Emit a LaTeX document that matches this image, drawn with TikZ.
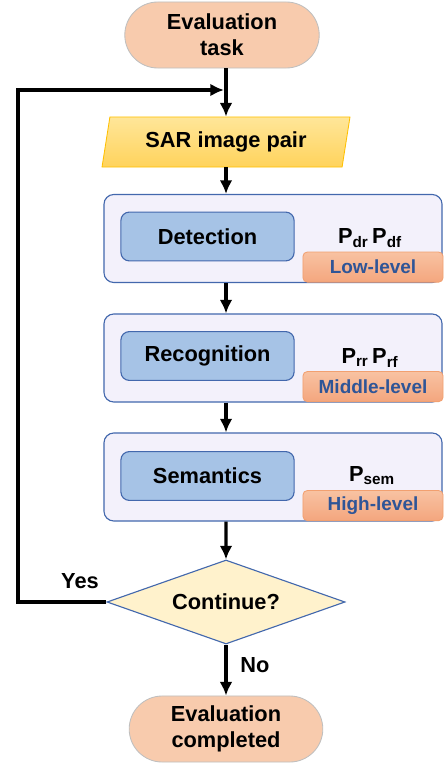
\documentclass[tikz,border=0pt]{standalone}
\usepackage{fontspec}
\setmainfont{Liberation Sans}
\usepackage{tikz}
\usetikzlibrary{positioning,calc,shapes.geometric,shapes.misc,arrows.meta}

\definecolor{termfill}{HTML}{F8CBAD}
\definecolor{termline}{HTML}{BFBFBF}
\definecolor{sartop}{HTML}{FFE699}
\definecolor{sarbot}{HTML}{FFD35C}
\definecolor{sarline}{HTML}{FFC000}
\definecolor{stagefill}{HTML}{F3F1FB}
\definecolor{stageline}{HTML}{4368AD}
\definecolor{taskfill}{HTML}{A6C3E6}
\definecolor{tagtop}{HTML}{F8C2A2}
\definecolor{tagbot}{HTML}{F4A67E}
\definecolor{tagline}{HTML}{F2A070}
\definecolor{tagtext}{HTML}{2F5597}
\definecolor{decfill}{HTML}{FFF2CC}

\begin{document}
\begin{tikzpicture}[x=0.025cm, y=-0.025cm, >={Latex[length=3.4mm,width=3.2mm]}, line width=2.2pt,
    every node/.style={font=\fontsize{15.5}{18.5}\selectfont\bfseries, align=center},
    term/.style={rounded rectangle, draw=termline, line width=0.6pt, fill=termfill,
      minimum width=5cm, minimum height=1.65cm, inner sep=2pt},
    sarbox/.style={trapezium, trapezium left angle=79, trapezium right angle=101,
      trapezium stretches=true, draw=sarline, line width=0.6pt, top color=sartop,
      bottom color=sarbot, minimum width=6.2cm, minimum height=1.25cm},
    stage/.style={draw=stageline, line width=0.8pt, fill=stagefill, rounded corners=7pt,
      minimum width=8.45cm, minimum height=2.2cm},
    task/.style={draw=stageline, line width=0.8pt, fill=taskfill, rounded corners=6pt,
      minimum width=4.33cm, minimum height=1.22cm},
    level/.style={draw=tagline, line width=0.6pt, top color=tagtop, bottom color=tagbot,
      rounded corners=3pt, minimum width=3.5cm, minimum height=0.75cm, text=tagtext,
      font=\fontsize{13.5}{15}\selectfont\bfseries},
    decide/.style={diamond, draw=stageline, line width=0.8pt, fill=decfill, inner sep=0pt,
      shape aspect=2.8, minimum width=5.95cm, minimum height=2.1cm}]

  \useasboundingbox (0,0) rectangle (444,763);

  \node[term] (start) at (222,35) {Evaluation\\task};
  \node[sarbox] (sar) at (226,142) {SAR image pair};

  \node[stage] (s1) at (273,238.5) {};
  \node[stage] (s2) at (273,358) {};
  \node[stage] (s3) at (273,477) {};

  \node[task] (det) at (207.5,236.5) {Detection};
  \node[task] (rec) at (207.5,356) {Recognition};
  \node[task] (sem) at (207.5,476) {Semantics};

  \node (pdet) at (370,238) {P\textsubscript{dr}\,P\textsubscript{df}};
  \node (prec) at (370,358) {P\textsubscript{rr}\,P\textsubscript{rf}};
  \node (psem) at (372,476) {P\textsubscript{sem}};

  \node[level, anchor=south] (low) at (373,282.5) {Low-level};
  \node[level, anchor=south] (mid) at (373,402) {Middle-level};
  \node[level, anchor=south] (high) at (373,521) {High-level};

  \node[decide] (cont) at (226,602) {Continue?};
  \node[term, minimum width=4.98cm] (done) at (226,729) {Evaluation\\completed};

  \node (yes) at (80,581) {Yes};
  \node (no) at (255,665) {No};

  \coordinate (join) at (226,90);
  \coordinate (loopx) at (18,0);

  \draw[->] (start.south -| sar.north) -- (sar.north);
  \draw[->] (sar.south) -- (sar.south |- s1.north);
  \draw[->] (sar.south |- s1.south) -- (sar.south |- s2.north);
  \draw[->] (sar.south |- s2.south) -- (sar.south |- s3.north);
  \draw[->] (sar.south |- s3.south) -- (cont.north);
  \draw[->] (cont.south) -- (done.north);
  \draw[->, line join=miter] (cont.west) -- (cont.west -| loopx) |- ([xshift=-1.5pt]join);
\end{tikzpicture}
\end{document}
